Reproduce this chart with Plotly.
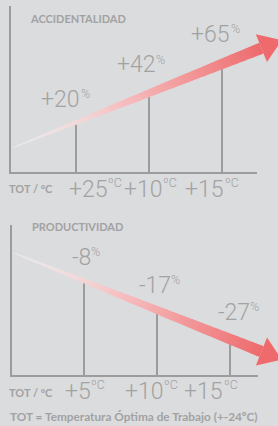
import plotly.graph_objects as go

# ---------------- data ----------------
categories = [1, 2, 3]

acc_title = "ACCIDENTALIDAD"
acc_values = [20, 42, 65]
acc_value_labels = ["+20", "+42", "+65"]
acc_temp_labels = ["+25", "+10", "+15"]
acc_trend = [2, 87]          # trend arrow start / end value

prod_title = "PRODUCTIVIDAD"
prod_values = [-8, -17, -27]
prod_value_labels = ["-8", "-17", "-27"]
prod_temp_labels = ["+5", "+10", "+15"]
prod_trend = [1, -31.8]

value_unit = "%"
temp_unit = "ºC"
axis_label = "TOT / ºC"
footer_text = "TOT = Temperatura Óptima de Trabajo (+-24ºC)"

# ---------------- style / layout ----------------
W, H = 278, 426
BG = "#dbdcde"
LINE = "#9c9c9c"
TXT = "#a2a2a2"
BIG_FONT = dict(family="Roboto", size=23, color=TXT, weight=300)
SUP_FONT = dict(family="Roboto", size=12.5, color=TXT, weight=300)
SMALL_BOLD = dict(family="Lato", size=11, color=TXT, weight=700)
FOOT_FONT = dict(family="Lato", size=11.8, color=TXT, weight=700)

panels = [
    dict(values=acc_values, vlabels=acc_value_labels, tlabels=acc_temp_labels,
         trend=acc_trend, title=acc_title,
         c1=76, sp=73, base=-18, base_px=173, k=1.267, dom=(0, 180),
         ax_left=10, ax_top=6, ax_right=257, trend_x=(13, 281.8),
         vlab_split=[80, 155.5, 230], vlab_y=[99.5, 65, 35], vsup_dy=-6,
         tlab_split=[107.5, 162.5, 224], tlab_y=189.5, tsup_dy=-7,
         axlab_pos=(31, 188.5), title_pos=(30, 19)),
    dict(values=prod_values, vlabels=prod_value_labels, tlabels=prod_temp_labels,
         trend=prod_trend, title=prod_title,
         c1=84, sp=73, base=-36.8, base_px=376, k=3.263, dom=(205, 380),
         ax_left=11, ax_top=225, ax_right=258, trend_x=(13, 281.9),
         vlab_split=[90.5, 170.5, 249.5], vlab_y=[257.5, 285.5, 312.5], vsup_dy=-6,
         tlab_split=[90.5, 163.5, 223], tlab_y=391, tsup_dy=-7,
         axlab_pos=(31, 392), title_pos=(32, 226)),
]

fig = go.Figure()
annotations = []


def lerp(a, b, t):
    return a + (b - a) * t


def add_text(text, px, py, font, xanchor="center"):
    annotations.append(dict(text=text, x=px / W, y=1 - py / H, xref="paper",
                            yref="paper", xanchor=xanchor, yanchor="middle",
                            showarrow=False, font=font, borderpad=0, borderwidth=0))


for i, p in enumerate(panels):
    xa = "x" if i == 0 else "x2"
    ya = "y" if i == 0 else "y2"
    c1, sp, base, bpx, k = p["c1"], p["sp"], p["base"], p["base_px"], p["k"]
    d0, d1 = p["dom"]

    def px2x(px):
        return 1 + (px - c1) / sp

    def py2y(py):
        return base + (bpx - py) / k

    def x2px(x):
        return c1 + (x - 1) * sp

    def y2py(y):
        return bpx - (y - base) * k

    xr = [px2x(0), px2x(W)]
    yr = [py2y(d1), py2y(d0)]
    axis_kw = dict(visible=False, fixedrange=True)
    key = "" if i == 0 else "2"
    fig.layout["xaxis" + key] = dict(range=xr, domain=[0, 1], anchor=ya, **axis_kw)
    fig.layout["yaxis" + key] = dict(range=yr, domain=[1 - d1 / H, 1 - d0 / H],
                                     anchor=xa, **axis_kw)

    # axis frame (L shape)
    x0, xe = px2x(p["ax_left"]), px2x(p["ax_right"])
    ytop = py2y(p["ax_top"])
    fig.add_trace(go.Scatter(x=[x0, x0, xe], y=[ytop, base, base], mode="lines",
                             line=dict(color=LINE, width=2), xaxis=xa, yaxis=ya,
                             hoverinfo="skip", showlegend=False))

    # bars as thin vertical lines
    bx, by = [], []
    for c, v in zip(categories, p["values"]):
        bx += [c, c, None]
        by += [base, v, None]
    fig.add_trace(go.Scatter(x=bx, y=by, mode="lines",
                             line=dict(color=LINE, width=2), xaxis=xa, yaxis=ya,
                             hoverinfo="skip", showlegend=False))

    # gradient trend arrow
    xs, xe_ = px2x(p["trend_x"][0]), px2x(p["trend_x"][1])
    ys, ye = p["trend"]
    sx, sy = x2px(xs), y2py(ys)
    ex, ey = x2px(xe_), y2py(ye)
    L = ((ex - sx) ** 2 + (ey - sy) ** 2) ** 0.5
    ux, uy = (ex - sx) / L, (ey - sy) / L
    nx, ny = -uy, ux
    head_len, head_hw = 22, 15
    w0, w1 = 0.5, 5.8
    shaft_len = L - head_len
    N = 70
    c_start = (252, 246, 246)
    c_end = (238, 106, 108)
    for j in range(N):
        t0, t1 = j / N, min((j + 1.15) / N, 1.0)
        tm = (j + 0.5) / N
        pts = []
        for t, sgn in [(t0, 1), (t1, 1), (t1, -1), (t0, -1)]:
            w = lerp(w0, w1, t ** 0.8)
            cx, cy = sx + ux * shaft_len * t, sy + uy * shaft_len * t
            pts.append((cx + sgn * nx * w, cy + sgn * ny * w))
        pts.append(pts[0])
        g = tm ** 1.1
        col = "rgb(%d,%d,%d)" % tuple(round(lerp(a, b, g)) for a, b in zip(c_start, c_end))
        op = min(1.0, 0.35 + tm * 1.5)
        fig.add_trace(go.Scatter(x=[px2x(q[0]) for q in pts], y=[py2y(q[1]) for q in pts],
                                 mode="lines", fill="toself", fillcolor=col,
                                 line=dict(width=0, color=col), opacity=op,
                                 xaxis=xa, yaxis=ya, hoverinfo="skip", showlegend=False))
    bxm, bym = sx + ux * shaft_len, sy + uy * shaft_len
    head = [(bxm + nx * head_hw, bym + ny * head_hw), (ex, ey),
            (bxm - nx * head_hw, bym - ny * head_hw)]
    head.append(head[0])
    hc = "rgb(%d,%d,%d)" % c_end
    fig.add_trace(go.Scatter(x=[px2x(q[0]) for q in head], y=[py2y(q[1]) for q in head],
                             mode="lines", fill="toself", fillcolor=hc,
                             line=dict(width=0, color=hc), xaxis=xa, yaxis=ya,
                             hoverinfo="skip", showlegend=False))

    # text
    add_text(p["title"], p["title_pos"][0], p["title_pos"][1], SMALL_BOLD, "left")
    for lab, sx_, py in zip(p["vlabels"], p["vlab_split"], p["vlab_y"]):
        add_text(lab, sx_, py, BIG_FONT, "right")
        add_text(value_unit, sx_ + 0.5, py + p["vsup_dy"], SUP_FONT, "left")
    for lab, sx_ in zip(p["tlabels"], p["tlab_split"]):
        add_text(lab, sx_, p["tlab_y"], BIG_FONT, "right")
        add_text(temp_unit, sx_ + 0.5, p["tlab_y"] + p["tsup_dy"], SUP_FONT, "left")
    add_text(axis_label, p["axlab_pos"][0], p["axlab_pos"][1], SMALL_BOLD)

add_text(footer_text, 10, 416.5, FOOT_FONT, "left")

fig.update_layout(width=W, height=H, margin=dict(l=0, r=0, t=0, b=0),
                  paper_bgcolor=BG, plot_bgcolor=BG, annotations=annotations,
                  showlegend=False)

fig.write_html("out.html", config={"displayModeBar": False},
               post_script="document.body.style.margin='0';"
                           "document.body.style.background='%s';" % BG)
